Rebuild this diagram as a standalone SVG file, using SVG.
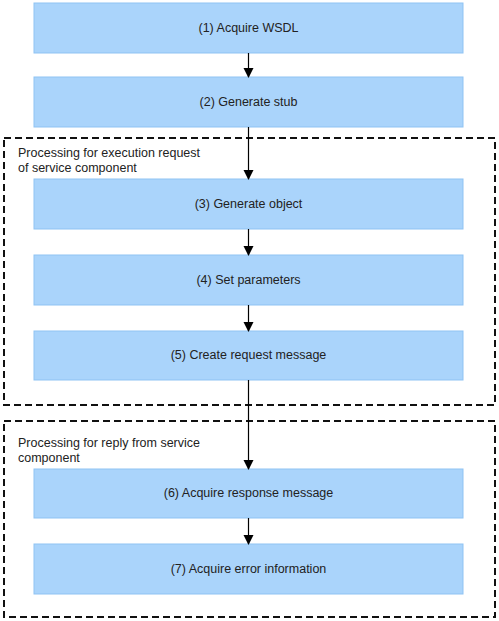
<svg xmlns="http://www.w3.org/2000/svg" width="499" height="621" viewBox="0 0 499 621">
<style>
.box{fill:#aad4fb;stroke:#8fc3f3;stroke-width:1}
.t{font-family:"Liberation Sans",Arial,sans-serif;font-size:12.5px;fill:#222}
.c{text-anchor:middle}
.frame{fill:none;stroke:#111;stroke-width:2;stroke-dasharray:7,4}
.arr{stroke:#000;stroke-width:1.2;fill:none;marker-end:url(#ah)}
</style>
<defs>
<marker id="ah" markerWidth="10" markerHeight="12" refX="9" refY="6" orient="auto" markerUnits="userSpaceOnUse">
<path d="M0,1 L10,6 L0,11 Z" fill="#000"/>
</marker>
</defs>
<rect width="499" height="621" fill="#fff"/>
<g id="frame1"><rect class="frame" x="4" y="138" width="491" height="267"/>
<text class="t" x="18" y="157">Processing for execution request</text>
<text class="t" x="18" y="172">of service component</text></g>
<g id="frame2"><rect class="frame" x="4" y="421" width="491" height="196"/>
<text class="t" x="18" y="447">Processing for reply from service</text>
<text class="t" x="18" y="462">component</text></g>
<g id="n1"><rect class="box" x="34" y="3" width="429" height="50"/><text class="t c" x="248.5" y="32">(1) Acquire WSDL</text></g>
<g id="n2"><rect class="box" x="34" y="77" width="429" height="50"/><text class="t c" x="248.5" y="106">(2) Generate stub</text></g>
<g id="n3"><rect class="box" x="34" y="179" width="429" height="50"/><text class="t c" x="248.5" y="208">(3) Generate object</text></g>
<g id="n4"><rect class="box" x="34" y="255" width="429" height="50"/><text class="t c" x="248.5" y="284">(4) Set parameters</text></g>
<g id="n5"><rect class="box" x="34" y="331" width="429" height="49"/><text class="t c" x="248.5" y="359">(5) Create request message</text></g>
<g id="n6"><rect class="box" x="34" y="469" width="429" height="49"/><text class="t c" x="248.5" y="497">(6) Acquire response message</text></g>
<g id="n7"><rect class="box" x="34" y="544" width="429" height="50"/><text class="t c" x="248.5" y="573">(7) Acquire error information</text></g>
<g id="connectors">
<line class="arr" x1="248.5" y1="53" x2="248.5" y2="77"/>
<line class="arr" x1="248.5" y1="127" x2="248.5" y2="179"/>
<line class="arr" x1="248.5" y1="229" x2="248.5" y2="255"/>
<line class="arr" x1="248.5" y1="305" x2="248.5" y2="331"/>
<line class="arr" x1="248.5" y1="380" x2="248.5" y2="469"/>
<line class="arr" x1="248.5" y1="518" x2="248.5" y2="544"/>
</g>
</svg>
